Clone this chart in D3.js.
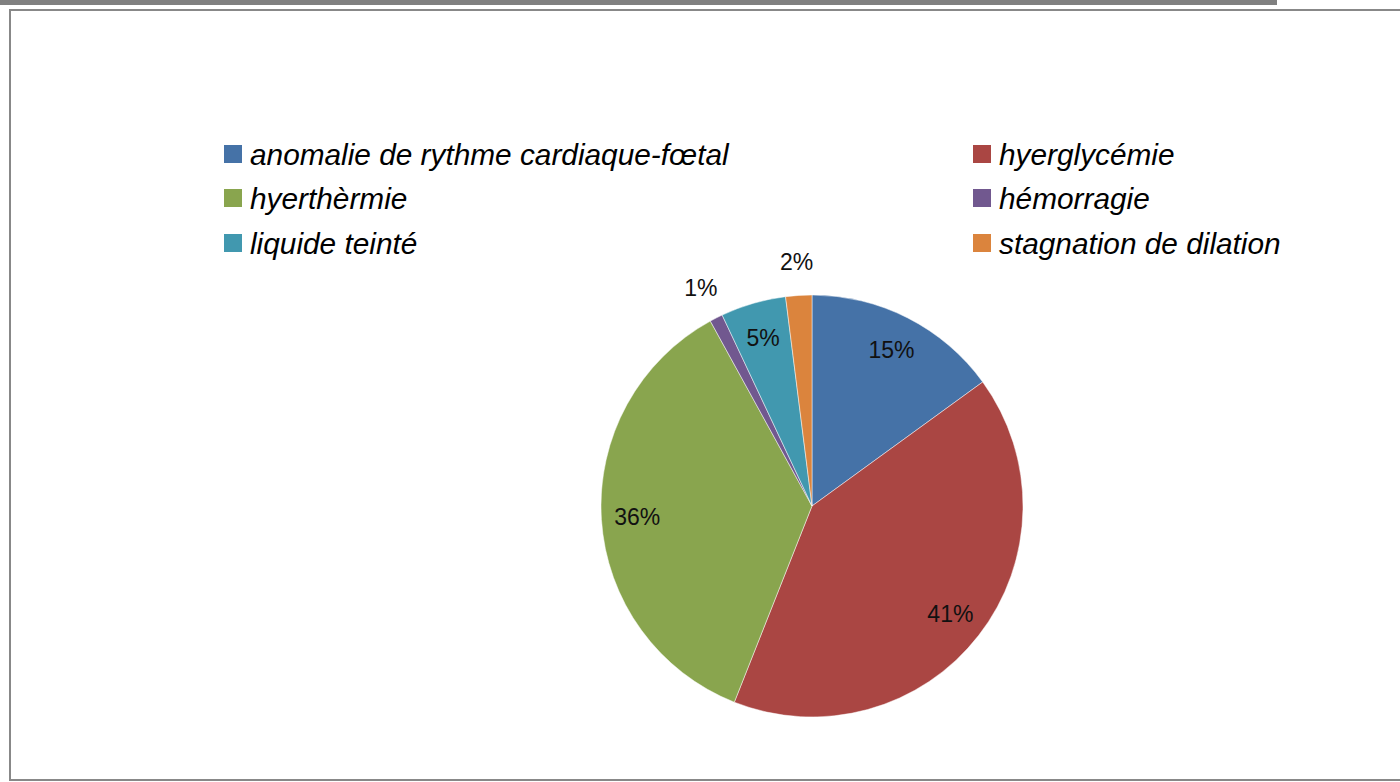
<!DOCTYPE html>
<html>
<head>
<meta charset="utf-8">
<script src="https://cdn.jsdelivr.net/npm/d3@7"></script>
<style>
  body { margin: 0; background: #fff; }
  svg { display: block; }
</style>
</head>
<body>
<div id="chart"></div>
<script>
const categories = [
  'anomalie de rythme cardiaque-fœtal',
  'hyerglycémie',
  'hyerthèrmie',
  'hémorragie',
  'liquide teinté',
  'stagnation de dilation'
];
const values = [15, 41, 36, 1, 5, 2];
const colors = ['#4572A7', '#AA4643', '#89A54E', '#71588F', '#4198AF', '#DB843D'];

const width = 1400, height = 782;
const cx = 812, cy = 506, radius = 211;

const svg = d3.select('#chart').append('svg')
  .attr('width', width)
  .attr('height', height);

// page frame
svg.append('rect')
  .attr('x', 0).attr('y', 0)
  .attr('width', 1277).attr('height', 5)
  .attr('fill', '#808080');
svg.append('rect')
  .attr('x', 10).attr('y', 10)
  .attr('width', 1400).attr('height', 770)
  .attr('fill', 'none')
  .attr('stroke', '#888')
  .attr('stroke-width', 2);

const data = categories.map((c, i) => ({ name: c, value: values[i], color: colors[i] }));

const pie = d3.pie().value(d => d.value).sort(null);
const arc = d3.arc().innerRadius(0).outerRadius(radius);
const arcs = pie(data);

const g = svg.append('g')
  .attr('transform', 'translate(' + cx + ',' + cy + ')');

g.selectAll('path')
  .data(arcs)
  .enter()
  .append('path')
    .attr('d', arc)
    .attr('fill', d => d.data.color)
    .attr('stroke', '#fff')
    .attr('stroke-width', 0.8)
    .attr('stroke-opacity', 0.6);

// labels: inside for large slices, outside for tiny ones
const inner = d3.arc().innerRadius(radius * 0.83).outerRadius(radius * 0.83);
g.selectAll('text.pct')
  .data(arcs)
  .enter()
  .append('text')
    .attr('class', 'pct')
    .attr('transform', d => {
      if (d.data.value >= 3) {
        return 'translate(' + inner.centroid(d) + ')';
      }
      const a = (d.startAngle + d.endAngle) / 2;
      const r = radius + 34;
      return 'translate(' + (r * Math.sin(a)) + ',' + (-r * Math.cos(a)) + ')';
    })
    .attr('text-anchor', 'middle')
    .attr('dy', '0.36em')
    .style('font-family', '"Liberation Sans", Arial, sans-serif')
    .style('font-size', '23px')
    .style('fill', '#111')
    .text(d => d.data.value + '%');

// legend, two columns
const legendCols = [224, 973];
const legendRows = [154, 198, 243];
const legend = svg.append('g');
const items = legend.selectAll('g')
  .data(data)
  .enter()
  .append('g')
    .attr('transform', (d, i) => 'translate(' + legendCols[i % 2] + ',' + legendRows[Math.floor(i / 2)] + ')');

items.append('rect')
  .attr('x', 0).attr('y', -9)
  .attr('width', 18).attr('height', 18)
  .attr('fill', d => d.color);

items.append('text')
  .attr('x', 26)
  .attr('dy', '0.36em')
  .style('font-family', '"Liberation Sans", Arial, sans-serif')
  .style('font-style', 'italic')
  .style('font-size', '29.8px')
  .style('fill', '#000')
  .text(d => d.name);
</script>
</body>
</html>
